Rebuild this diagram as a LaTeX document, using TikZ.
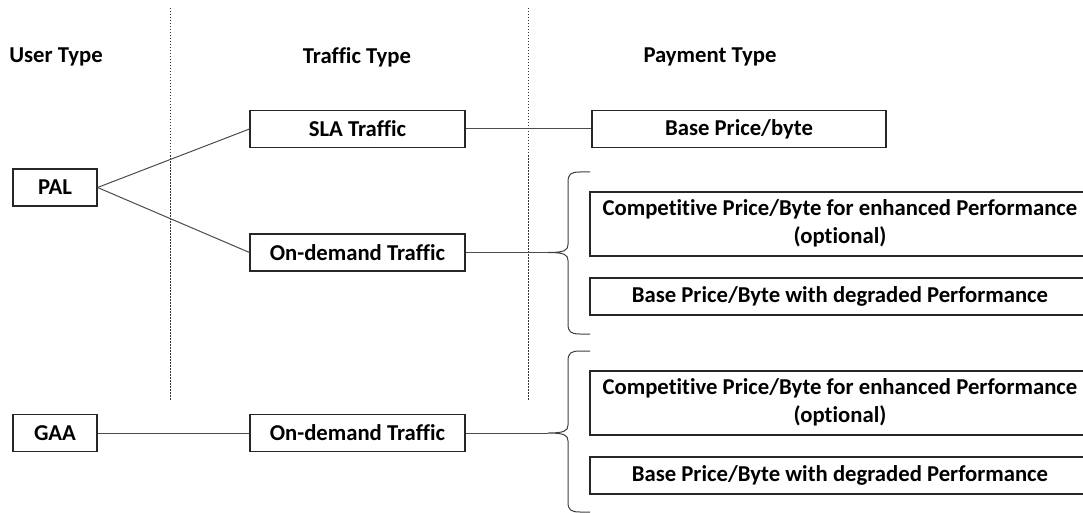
\documentclass[tikz,border=0pt]{standalone}
\usepackage{fontspec}
\setmainfont[Ligatures={NoCommon}]{Carlito}
\newcommand{\twoline}[2]{\raisebox{-3pt}{\begin{tabular}{@{}c@{}}#1\\#2\end{tabular}}}
\begin{document}
\begin{tikzpicture}[x=1pt,y=-1pt,
  txt/.style={font=\fontsize{22.7}{28}\selectfont\bfseries, align=center, inner sep=0pt},
  box/.style={txt, draw=black!85, line width=1.1pt},
  conn/.style={draw=black!70, line width=1pt},
  sep/.style={draw=black!80, line width=1pt, dash pattern=on 1.5pt off 1.5pt},
  brace/.style={draw=black!75, line width=1pt}]
\clip (0,0) rectangle (1083,513);
\fill[white] (0,0) rectangle (1083,513);
% separators
\draw[sep] (170,8) -- (170,400);
\draw[sep] (528,8) -- (528,401);
% titles
\node[txt] (t1) at (56,57) {User Type};
\node[txt] (t2) at (357,57) {Traffic Type};
\node[txt] (t3) at (710,57) {Payment Type};
% user nodes
\node[box, minimum width=84pt, minimum height=37pt] (pal) at (55,187.5) {PAL};
\node[box, minimum width=84pt, minimum height=37pt] (gaa) at (55,433) {GAA};
% traffic nodes
\node[box, minimum width=215pt, minimum height=37pt] (sla) at (357.5,129) {SLA Traffic};
\node[box, minimum width=215pt, minimum height=37pt] (od1) at (357.5,252.5) {On-demand Traffic};
\node[box, minimum width=215pt, minimum height=37pt] (od2) at (357.5,433) {On-demand Traffic};
% payment nodes
\node[box, minimum width=294pt, minimum height=37pt] (bp) at (739,129) {Base Price/byte};
\node[box, minimum width=500pt, minimum height=64pt] (c1) at (840,224) {\twoline{Competitive Price/Byte for enhanced Performance}{(optional)}};
\node[box, minimum width=500pt, minimum height=37pt] (d1) at (840,296.5) {Base Price/Byte with degraded Performance};
\node[box, minimum width=500pt, minimum height=64pt] (c2) at (840,403) {\twoline{Competitive Price/Byte for enhanced Performance}{(optional)}};
\node[box, minimum width=500pt, minimum height=37pt] (d2) at (840,475.5) {Base Price/Byte with degraded Performance};
% brace tips
\coordinate (b1) at (548,252.5);
\coordinate (b2) at (548,433);
% connectors
\draw[conn] (pal.east) -- (sla.west);
\draw[conn] (pal.east) -- (od1.west);
\draw[conn] (sla.east) -- (bp.west);
\draw[conn] (gaa.east) -- (od2.west);
\draw[conn] (od1.east) -- (b1);
\draw[conn] (od2.east) -- (b2);
% braces
\draw[brace] (590,172) -- (580,172) .. controls (571,172) and (568,174) .. (568,182)
  -- (568,244.5) .. controls (568,250.5) and (564,252.5) .. (b1)
  .. controls (564,252.5) and (568,254.5) .. (568,260.5)
  -- (568,324) .. controls (568,332) and (571,334) .. (580,334) -- (590,334);
\draw[brace] (590,351) -- (580,351) .. controls (571,351) and (568,353) .. (568,361)
  -- (568,425) .. controls (568,431) and (564,433) .. (b2)
  .. controls (564,433) and (568,435) .. (568,441)
  -- (568,502) .. controls (568,510) and (571,512) .. (580,512) -- (590,512);
\end{tikzpicture}
\end{document}
